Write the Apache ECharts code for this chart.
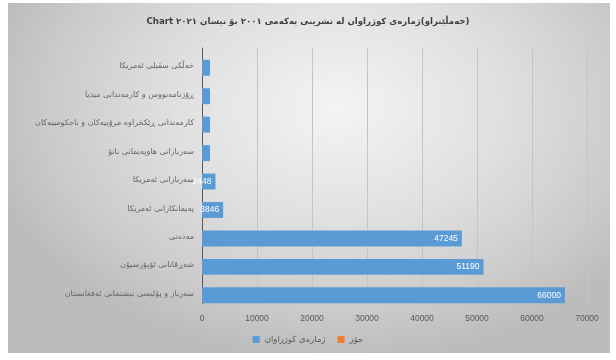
<!DOCTYPE html>
<html>
<head>
<meta charset="utf-8">
<script src="https://cdn.jsdelivr.net/npm/echarts@6/dist/echarts.min.js"></script>
<style>
html,body{margin:0;padding:0;background:#ffffff;}
#bg{position:absolute;left:8px;top:3px;width:602px;height:350px;
background:radial-gradient(ellipse 60% 72% at 55% 30%, #f4f4f4 0%, #e0e0e0 45%, #cbcbcb 80%, #bcbcbc 100%);}
#chart{position:absolute;left:0;top:0;width:616px;height:360px;}
</style>
</head>
<body>
<div id="bg"></div>
<div id="chart" dir="rtl"></div>
<script>
var titleText = "(خەمڵێنراو)ژمارەی کوژراوان لە تشرینی یەکەمی ٢٠٠١ بۆ نیسان ٢٠٢١ Chart";
var categories = [
  "سەرباز و پۆلیسی نیشتمانی ئەفغانستان",
  "شەڕڤانانی ئۆپۆزسیۆن",
  "مەدەنی",
  "پەیمانکارانی ئەمریکا",
  "سەربازانی ئەمریکا",
  "سەربازانی هاوپەیمانی ناتۆ",
  "کارمەندانی ڕێکخراوە مرۆییەکان و ناحکومییەکان",
  "ڕۆژنامەنووس و کارمەندانی میدیا",
  "خەڵکی سڤیلی ئەمریکا"
];
var killed = [66000, 51190, 47245, 3846, 2448, 1450, 1450, 1450, 1450];
var seriesNames = ["ژمارەی کوژراوان", "جۆر"];
var xTicks = [0, 10000, 20000, 30000, 40000, 50000, 60000, 70000];

var chart = echarts.init(document.getElementById('chart'), null, {renderer:'canvas'});
chart.setOption({
  animation:false,
  backgroundColor:'transparent',
  title:{
    text:titleText, left:'center', top:12,
    textStyle:{fontSize:8.6, fontWeight:'bold', color:'#3f3f3f', fontFamily:'DejaVu Sans'}
  },
  legend:{
    bottom:11, left:'center', itemWidth:7, itemHeight:7, itemGap:12,
    textStyle:{fontSize:8.5, color:'#595959', fontFamily:'DejaVu Sans'},
    data:[{name:seriesNames[0], icon:'rect'},{name:seriesNames[1], icon:'rect'}]
  },
  grid:{left:202, right:29, top:48, bottom:56},
  xAxis:{
    type:'value', min:xTicks[0], max:xTicks[xTicks.length-1], interval:10000,
    axisLine:{show:false}, axisTick:{show:false},
    axisLabel:{fontSize:8.5, color:'#595959', margin:10, formatter:function(v){return String(v);}},
    splitLine:{show:true, lineStyle:{color:'#c4c4c4', width:1}}
  },
  yAxis:{
    type:'category', data:categories,
    axisLine:{show:true, lineStyle:{color:'#595959', width:1}},
    axisTick:{show:false},
    axisLabel:{fontSize:8, color:'#666666', margin:8, fontFamily:'DejaVu Sans', verticalAlign:'top', lineHeight:8}
  },
  series:[
    {
      name:seriesNames[0], type:'bar', data:killed, barWidth:'56%',
      itemStyle:{color:'#5b9bd5'},
      label:{show:true, position:'insideRight', color:'#ffffff', fontSize:8.5, distance:4,
        formatter:function(p){return p.value>=2000 ? String(p.value) : '';}}
    },
    {
      name:seriesNames[1], type:'bar', data:[], barGap:'-100%',
      itemStyle:{color:'#ed7d31'}
    }
  ]
});
</script>
</body>
</html>
